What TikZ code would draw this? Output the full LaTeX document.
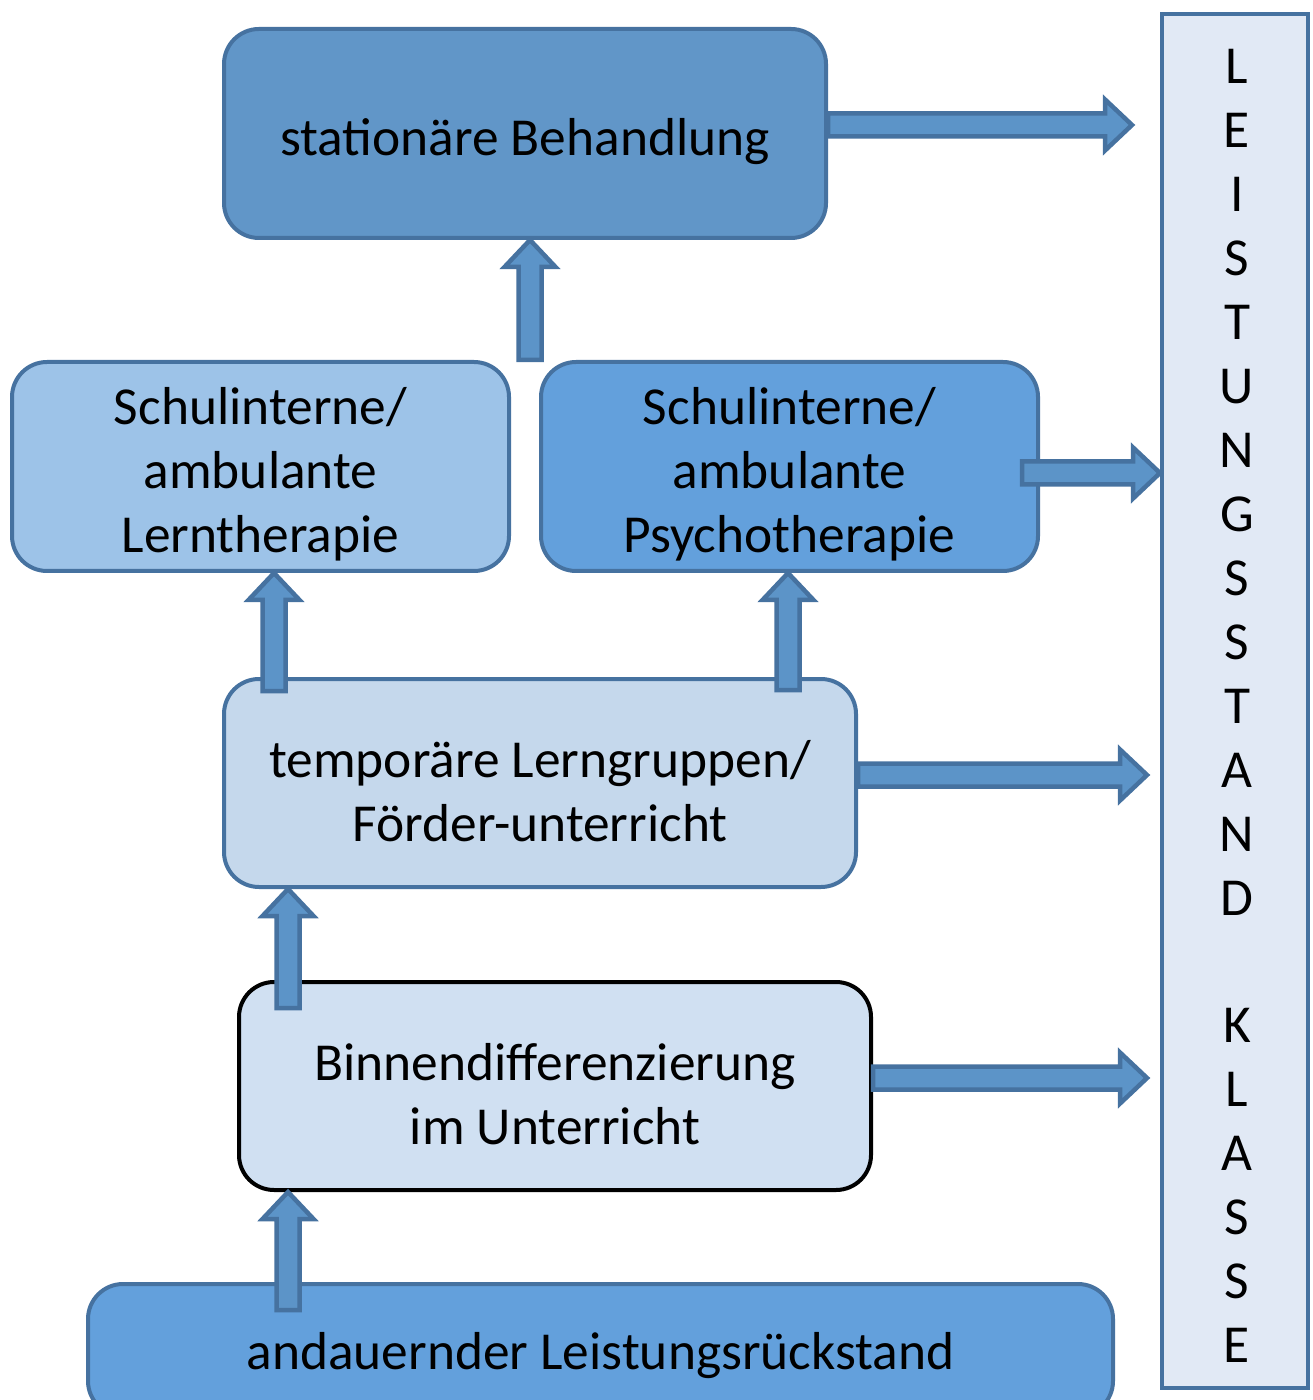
\documentclass[tikz,border=0pt]{standalone}
\usepackage{fontspec}
\setmainfont{Carlito}
\usetikzlibrary{calc}
\definecolor{edgeblue}{RGB}{70,114,160}
\definecolor{statfill}{RGB}{97,150,200}
\definecolor{lernfill}{RGB}{157,195,232}
\definecolor{psyfill}{RGB}{99,160,220}
\definecolor{tempfill}{RGB}{197,216,236}
\definecolor{binnfill}{RGB}{208,224,242}
\definecolor{barfill}{RGB}{225,233,245}
\definecolor{arrowfill}{RGB}{92,148,200}
\newcommand{\boxstrut}{\rule{0pt}{15pt}}

\begin{document}
\begin{tikzpicture}
  [x=0.1mm,y=-0.1mm,
   every node/.style={font=\fontsize{15.2}{18.2}\selectfont,align=center,inner sep=0pt},
   box/.style={rectangle,rounded corners=3.5mm,draw=edgeblue,line width=0.4mm},
   fatarrow/.style={draw=edgeblue,fill=arrowfill,line width=0.45mm,
     to path={($(\tikztotarget)!2.7mm!(\tikztostart)$) coordinate (fa-h)
       ($(\tikztostart)!1.15mm!90:(\tikztotarget)$) -- ($(fa-h)!1.15mm!-90:(\tikztostart)$)
       -- ($(fa-h)!2.55mm!-90:(\tikztostart)$) -- (\tikztotarget)
       -- ($(fa-h)!2.55mm!90:(\tikztostart)$) -- ($(fa-h)!1.15mm!90:(\tikztostart)$)
       -- ($(\tikztostart)!1.15mm!-90:(\tikztotarget)$) -- cycle}}]
  \useasboundingbox (0,0) rectangle (1312,1400);

  \node[box,fill=statfill,minimum width=60.2mm,minimum height=20.9mm] (stat) at (525,133.5) {\boxstrut stationäre Behandlung};
  \node[box,fill=lernfill,minimum width=49.7mm,minimum height=20.9mm] (lern) at (260.5,466.5) {\boxstrut Schulinterne/\\ambulante\\Lerntherapie};
  \node[box,fill=psyfill,minimum width=49.7mm,minimum height=20.9mm] (psy) at (789.5,466.5) {\boxstrut Schulinterne/\\ambulante\\Psychotherapie};
  \node[box,fill=tempfill,minimum width=63.2mm,minimum height=20.8mm] (temp) at (540,783) {\boxstrut temporäre Lerngruppen/\\Förder-unterricht};
  \node[box,fill=binnfill,draw=black,minimum width=63.2mm,minimum height=20.8mm] (binn) at (555,1086) {\boxstrut Binnendifferenzierung\\im Unterricht};
  \node[box,fill=psyfill,minimum width=102.5mm,minimum height=13.2mm] (andau) at (600.5,1350) {\rule{0pt}{13.5pt}andauernder Leistungsrückstand};
  \node[rectangle,draw=edgeblue,line width=0.4mm,fill=barfill,minimum width=14.6mm,minimum height=137.4mm] (bar) at (1235,701) {};
  \node (klasse) at (1237,706) {L\\E\\I\\S\\T\\U\\N\\G\\S\\S\\T\\A\\N\\D\\~\\K\\L\\A\\S\\S\\E};

  % arrows to the right
  \coordinate (r1s) at ($(stat.east)+(0,-8.5)$);
  \coordinate (r1e) at ($(r1s -| bar.west)+(-28,0)$);
  \coordinate (r2s) at ($(psy.east)+(-18,6.5)$);
  \coordinate (r2e) at (r2s -| bar.west);
  \coordinate (r3s) at ($(temp.east)+(0,-8)$);
  \coordinate (r3e) at ($(r3s -| bar.west)+(-13,0)$);
  \coordinate (r4s) at ($(binn.east)+(0,-8)$);
  \coordinate (r4e) at ($(r4s -| bar.west)+(-13,0)$);
  % arrows upwards
  \coordinate (u1s) at ($(psy.north west)+(-9,0)$);
  \coordinate (u1e) at (u1s |- stat.south);
  \coordinate (u2s) at ($(temp.north west)+(52,14)$);
  \coordinate (u2e) at (u2s |- lern.south);
  \coordinate (u3s) at ($(temp.north west)+(566,13)$);
  \coordinate (u3e) at (u3s |- psy.south);
  \coordinate (u4s) at ($(binn.north west)+(51,28)$);
  \coordinate (u4e) at (u4s |- temp.south);
  \coordinate (u5s) at ($(andau.north west)+(202,28)$);
  \coordinate (u5e) at (u5s |- binn.south);

  \foreach \from/\to in {r1s/r1e,r2s/r2e,r3s/r3e,r4s/r4e,u1s/u1e,u2s/u2e,u3s/u3e,u4s/u4e,u5s/u5e}
    \draw[fatarrow] (\from) to (\to);

\end{tikzpicture}
\end{document}
